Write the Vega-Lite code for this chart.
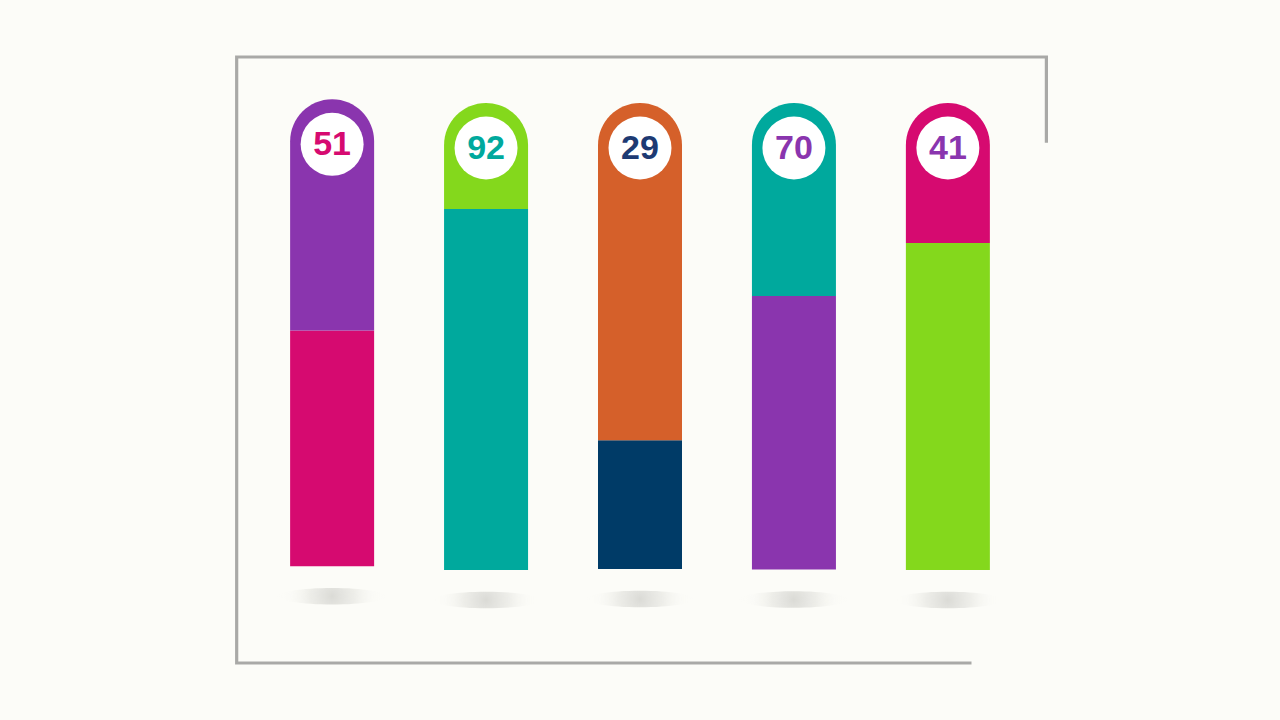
{
  "$schema": "https://vega.github.io/schema/vega-lite/v6.json",
  "width": 1280,
  "height": 720,
  "autosize": {"type": "fit", "contains": "padding"},
  "padding": 0,
  "background": "#fcfcf8",
  "config": {"view": {"stroke": null}, "axis": {"disable": true}},
  "datasets": {
    "bars": [
      {"bar": 1, "label": "51", "base": 0.8, "split": 51.3, "top": 100.8},
      {"bar": 2, "label": "92", "base": 0, "split": 77.3, "top": 100},
      {"bar": 3, "label": "29", "base": 0.2, "split": 27.8, "top": 100},
      {"bar": 4, "label": "70", "base": 0.1, "split": 58.7, "top": 100},
      {"bar": 5, "label": "41", "base": 0, "split": 70.0, "top": 100}
    ],
    "frame": [
      {"o": 1, "fx": 5.640, "fy": 91.86},
      {"o": 2, "fx": 5.640, "fy": 109.85},
      {"o": 3, "fx": 0.380, "fy": 109.85},
      {"o": 4, "fx": 0.380, "fy": -19.91},
      {"o": 5, "fx": 5.143, "fy": -19.91}
    ]
  },
  "layer": [
    {
      "data": {"name": "frame"},
      "mark": {"type": "line", "color": "#a9a9a7", "strokeWidth": 3.2, "strokeCap": "square", "strokeJoin": "miter"},
      "encoding": {
        "x": {"field": "fx", "type": "quantitative", "scale": {"domain": [-1.125, 7.125], "nice": false, "zero": false}, "axis": null},
        "y": {"field": "fy", "type": "quantitative", "scale": {"domain": [-32.12, 122.06], "nice": false, "zero": false}, "axis": null},
        "order": {"field": "o", "type": "quantitative"}
      }
    },
    {
      "data": {"name": "bars"},
      "mark": {
        "type": "point",
        "shape": "M -1 0 A 1 0.15 0 1 0 1 0 A 1 0.15 0 1 0 -1 0 Z",
        "size": 12100,
        "filled": true,
        "opacity": 1,
        "strokeWidth": 0,
        "yOffset": 30,
        "fill": {"gradient": "radial", "stops": [
          {"offset": 0, "color": "rgba(185,185,180,0.5)"},
          {"offset": 0.4, "color": "rgba(205,205,200,0.32)"},
          {"offset": 0.75, "color": "rgba(235,235,230,0.08)"},
          {"offset": 1, "color": "rgba(252,252,248,0)"}
        ]}
      },
      "encoding": {
        "x": {"field": "bar", "type": "quantitative", "scale": {"domain": [-1.125, 7.125], "nice": false, "zero": false}, "axis": null},
        "y": {"field": "base", "type": "quantitative", "scale": {"domain": [-32.12, 122.06], "nice": false, "zero": false}, "axis": null}
      }
    },
    {
      "data": {"name": "bars"},
      "mark": {"type": "bar", "size": 84},
      "encoding": {
        "x": {"field": "bar", "type": "quantitative", "scale": {"domain": [-1.125, 7.125], "nice": false, "zero": false}, "axis": null},
        "y": {"field": "base", "type": "quantitative", "scale": {"domain": [-32.12, 122.06], "nice": false, "zero": false}, "axis": null},
        "y2": {"field": "split"},
        "color": {"field": "bar", "type": "nominal", "legend": null,
          "scale": {"domain": [1, 2, 3, 4, 5], "range": ["#d60a70", "#00a99d", "#003b67", "#8a35ae", "#84d81c"]}}
      }
    },
    {
      "data": {"name": "bars"},
      "mark": {"type": "bar", "size": 84, "cornerRadiusTopLeft": 42, "cornerRadiusTopRight": 42},
      "encoding": {
        "x": {"field": "bar", "type": "quantitative", "scale": {"domain": [-1.125, 7.125], "nice": false, "zero": false}, "axis": null},
        "y": {"field": "split", "type": "quantitative", "scale": {"domain": [-32.12, 122.06], "nice": false, "zero": false}, "axis": null},
        "y2": {"field": "top"},
        "color": {"field": "bar", "type": "nominal", "legend": null,
          "scale": {"domain": [1, 2, 3, 4, 5], "range": ["#8a35ae", "#84d81c", "#d5602a", "#00a99d", "#d60a70"]}}
      }
    },
    {
      "data": {"name": "bars"},
      "mark": {"type": "point", "shape": "circle", "filled": true, "color": "#ffffff", "opacity": 1, "size": 3969, "yOffset": 45},
      "encoding": {
        "x": {"field": "bar", "type": "quantitative", "scale": {"domain": [-1.125, 7.125], "nice": false, "zero": false}, "axis": null},
        "y": {"field": "top", "type": "quantitative", "scale": {"domain": [-32.12, 122.06], "nice": false, "zero": false}, "axis": null}
      }
    },
    {
      "data": {"name": "bars"},
      "mark": {"type": "text", "font": "Liberation Sans", "fontSize": 34, "fontWeight": "bold", "baseline": "middle", "align": "center", "yOffset": 45, "dy": 1},
      "encoding": {
        "x": {"field": "bar", "type": "quantitative", "scale": {"domain": [-1.125, 7.125], "nice": false, "zero": false}, "axis": null},
        "y": {"field": "top", "type": "quantitative", "scale": {"domain": [-32.12, 122.06], "nice": false, "zero": false}, "axis": null},
        "text": {"field": "label"},
        "color": {"field": "bar", "type": "nominal", "legend": null,
          "scale": {"domain": [1, 2, 3, 4, 5], "range": ["#d60a70", "#00a99d", "#1d3a73", "#8a35ae", "#8a35ae"]}}
      }
    }
  ],
  "resolve": {"scale": {"color": "independent"}}
}
